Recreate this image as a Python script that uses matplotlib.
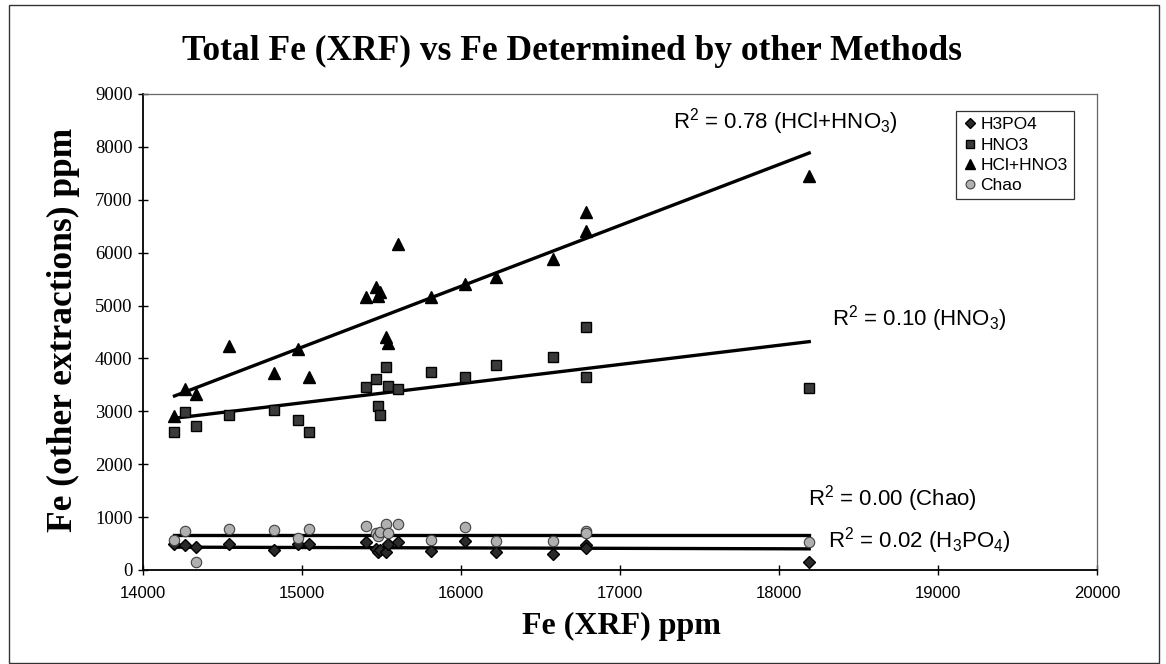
import numpy as np
import matplotlib
matplotlib.use("Agg")
import matplotlib.pyplot as plt
from matplotlib.patches import Rectangle

plt.rcParams["mathtext.fontset"] = "custom"
plt.rcParams["mathtext.rm"] = "Liberation Sans"
plt.rcParams["mathtext.it"] = "Liberation Sans:italic"
plt.rcParams["mathtext.bf"] = "Liberation Sans:bold"

# ---- data ----
fe_xrf = [14198, 14267, 14335, 14544, 14827, 14974, 15044, 15400, 15463, 15478,
          15490, 15530, 15540, 15604, 15814, 16023, 16222, 16579, 16789, 16789, 18190]
hcl_hno3 = [2917, 3422, 3327, 4240, 3724, 4178, 3642, 5155, 5344, 5185,
            5250, 4399, 4300, 6163, 5155, 5406, 5533, 5879, 6762, 6414, 7450]
hno3 = [2603, 2981, 2728, 2936, 3031, 2841, 2615, 3454, 3611, 3106,
        2930, 3832, 3485, 3422, 3749, 3654, 3875, 4021, 4588, 3643, 3450]
h3po4 = [500, 480, 440, 491, 378, 491, 491, 522, 400, 334,
         380, 334, 500, 522, 365, 554, 334, 302, 480, 420, 150]
chao = [560, 743, 145, 775, 762, 600, 775, 826, 700, 650,
        720, 870, 700, 870, 560, 807, 554, 554, 743, 700, 520]

# Excel linear trendlines, values at the ends of the data range
trend_x = [14198, 18190]
trend_hcl_hno3 = [3290, 7885]
trend_hno3 = [2870, 4318]
trend_chao = [665, 665]
trend_h3po4 = [432, 400]

series_names = ["H3PO4", "HNO3", "HCl+HNO3", "Chao"]
x_ticks = [14000, 15000, 16000, 17000, 18000, 19000, 20000]
y_ticks = [0, 1000, 2000, 3000, 4000, 5000, 6000, 7000, 8000, 9000]

title = "Total Fe (XRF) vs Fe Determined by other Methods"
xlabel = "Fe (XRF) ppm"
ylabel = "Fe (other extractions) ppm"

fig = plt.figure(figsize=(11.66, 6.64), dpi=100)
fig.patch.set_facecolor("white")
# outer chart border
fig.add_artist(Rectangle((9 / 1166, 1 / 664), 1150 / 1166, 658 / 664, transform=fig.transFigure,
                         fill=False, edgecolor="#333333", linewidth=1.0))

ax = fig.add_axes([143 / 1166, 94 / 664, 954 / 1166, 476 / 664])
ax.set_xlim(14000, 20000)
ax.set_ylim(0, 9000)

# trendlines
for ty in (trend_hcl_hno3, trend_hno3, trend_chao, trend_h3po4):
    ax.plot(trend_x, ty, color="black", linewidth=2.4, zorder=2)

ms = 7.5
ax.plot(fe_xrf, h3po4, linestyle="none", marker="D", markersize=ms - 1.5, color="#2a2a2a",
        markeredgecolor="black", label=series_names[0], zorder=3)
ax.plot(fe_xrf, hno3, linestyle="none", marker="s", markersize=ms, color="#3a3a3a",
        markeredgecolor="black", label=series_names[1], zorder=3)
ax.plot(fe_xrf, hcl_hno3, linestyle="none", marker="^", markersize=ms + 0.5, color="black",
        markeredgecolor="black", label=series_names[2], zorder=3)
ax.plot(fe_xrf, chao, linestyle="none", marker="o", markersize=ms, color="#b0b0b0",
        markeredgecolor="#404040", markeredgewidth=0.8, label=series_names[3], zorder=3)

ax.set_xticks(x_ticks)
ax.set_yticks(y_ticks)
ax.tick_params(axis="both", direction="inout", length=7, width=1, colors="black")
for lab in ax.get_xticklabels():
    lab.set_fontfamily("Liberation Sans")
    lab.set_fontsize(12)
for lab in ax.get_yticklabels():
    lab.set_fontfamily("Liberation Serif")
    lab.set_fontsize(13.5)
ax.tick_params(axis="x", pad=8)
ax.tick_params(axis="y", pad=4)

for s in ("left", "bottom"):
    ax.spines[s].set_color("black")
    ax.spines[s].set_linewidth(1.3)
for s in ("top", "right"):
    ax.spines[s].set_color("#666666")
    ax.spines[s].set_linewidth(0.9)

fig.text(182 / 1166, 1 - 60 / 664, title, ha="left", va="baseline", family="Liberation Serif",
         fontweight="bold", fontsize=25.5)
fig.text(621 / 1166, 1 - 626 / 664, xlabel, ha="center", va="center", family="Liberation Serif",
         fontweight="bold", fontsize=23)
fig.text(63 / 1166, 1 - 330 / 664, ylabel, ha="center", va="center", rotation=90,
         family="Liberation Serif", fontweight="bold", fontsize=25.5)

afs = 16
ax.text(18748, 8480, r"R$^2$ = 0.78 (HCl+HNO$_3$)", fontsize=afs, family="Liberation Sans",
        va="center", ha="right")
ax.text(18333, 4745, r"R$^2$ = 0.10 (HNO$_3$)", fontsize=afs, family="Liberation Sans",
        va="center", ha="left")
ax.text(18182, 1342, r"R$^2$ = 0.00 (Chao)", fontsize=afs, family="Liberation Sans",
        va="center", ha="left")
ax.text(18308, 554, r"R$^2$ = 0.02 (H$_3$PO$_4$)", fontsize=afs, family="Liberation Sans",
        va="center", ha="left")

leg = ax.legend(loc="upper left", bbox_to_anchor=((956 - 143) / 954, (570 - 111) / 476),
                borderaxespad=0, frameon=True, fancybox=False, edgecolor="black",
                prop={"family": "Liberation Sans", "size": 12.5},
                handletextpad=0.15, handlelength=0.9, borderpad=0.35, labelspacing=0.3,
                markerscale=0.85)
leg.get_frame().set_linewidth(0.9)

fig.savefig("out.png", dpi=100)
